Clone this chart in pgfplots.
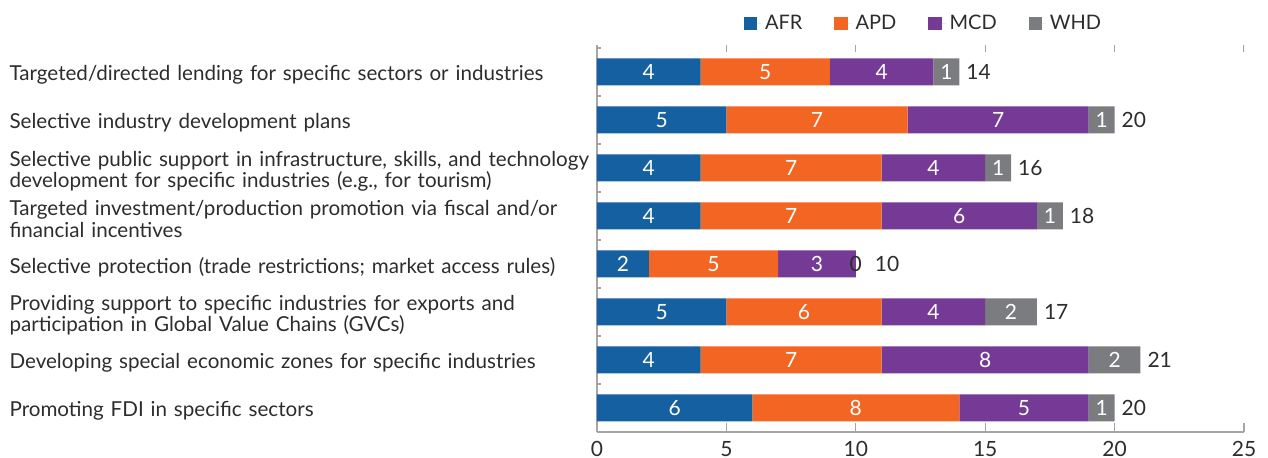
\documentclass[border=0pt]{standalone}
\usepackage{pgfplots}
\pgfplotsset{compat=1.18}
\usepackage{pgfplotstable}
\usetikzlibrary{calc}
\usepackage{fontspec}
\setmainfont{Lato}
\definecolor{afr}{RGB}{21,96,160}
\definecolor{apd}{RGB}{242,101,34}
\definecolor{mcd}{RGB}{117,58,149}
\definecolor{whd}{RGB}{123,124,128}
\definecolor{txt}{RGB}{45,45,45}
\definecolor{axisgray}{RGB}{165,165,165}

% y = 7 is the top row
\pgfplotstableread{
y afr apd mcd whd total
7 4 5 4 1 14
6 5 7 7 1 20
5 4 7 4 1 16
4 4 7 6 1 18
3 2 5 3 0 10
2 5 6 4 2 17
1 4 7 8 2 21
0 6 8 5 1 20
}\measures

\pgfplotsset{
  /pgf/number format/assume math mode=true,
  frame/.style={scale only axis, width=323.5pt, height=193.5pt,
    xmin=0, xmax=25, ymin=-0.5, ymax=7.5625},
  seg/.style={fill=#1, draw=none,
    point meta=explicit,
    nodes near coords,
    every node near coord/.append style={text=white,
      font=\fontsize{10.5}{12}\selectfont}}
}

\begin{document}
\begin{tikzpicture}
\begin{axis}[
  frame,
  xbar stacked, bar width=13.5pt,
  axis x line*=bottom, axis y line*=left,
  axis line style={axisgray, line width=0.6pt},
  tick align=inside,
  major tick length=4.5pt,
  xtick={0,5,...,25},
  xtick style={axisgray, line width=0.6pt},
  xticklabel style={text=txt, font=\fontsize{10.5}{12}\selectfont, yshift=-1pt},
  ytick={0,1,...,7},
  ytick style={draw=none},
  yticklabel style={text width=290pt, align=left, inner xsep=0pt, xshift=-3.5pt,
      yshift=-1.5pt, text=txt, font=\fontsize{10.3}{10.6}\selectfont},
  yticklabels={
    {Promoting FDI in specific sectors},
    {Developing special economic zones for specific industries},
    {Providing support to specific industries for exports and\\participation in Global Value Chains (GVCs)},
    {Selective protection (trade restrictions; market access rules)},
    {Targeted investment/production promotion via fiscal and/or\\financial incentives},
    {Selective public support in infrastructure, skills, and technology\\development for specific industries (e.g., for tourism)},
    {Selective industry development plans},
    {Targeted/directed lending for specific sectors or industries}},
  legend style={at={(0.5,1)}, anchor=south, yshift=2pt, xshift=2pt, draw=none, fill=none,
    legend columns=-1, font=\fontsize{10}{12}\selectfont, text=txt,
    /tikz/every even column/.append style={column sep=14pt}},
  legend image code/.code={\fill[#1] (0pt,-3.3pt) rectangle (6.6pt,3.3pt); \path (0pt,0pt) -- (8.6pt,0pt);},
]
\addplot[seg=afr] table[x=afr, y=y, meta=afr] {\measures};
\addplot[seg=apd] table[x=apd, y=y, meta=apd] {\measures};
\addplot[seg=mcd] table[x=mcd, y=y, meta=mcd] {\measures};
\addplot[seg=whd] table[x=whd, y=y, meta=whd] {\measures};
\legend{AFR, APD, MCD, WHD}
% top ticks and category separators
\pgfplotsinvokeforeach{5,10,15,20,25}{
  \draw[axisgray, line width=0.6pt] (axis cs:#1,7.5625) -- ++(0pt,-3.5pt);
}
\pgfplotsinvokeforeach{-0.5,0.5,1.5,2.5,3.5,4.5,5.5,6.5,7.5}{
  \draw[axisgray, line width=0.6pt] (axis cs:0,#1) -- ++(2pt,0pt);
}
\end{axis}
% overlay: totals at the end of each stack, and the zero WHD value
\begin{axis}[frame, hide axis]
\addplot[only marks, mark=none, point meta=explicit,
  visualization depends on={\thisrow{whd} \as \wv},
  nodes near coords,
  every node near coord/.append style={text=txt, anchor=west,
    xshift={(\wv==0)*6pt},
    font=\fontsize{10.5}{12}\selectfont}]
  table[x=total, y=y, meta=total] {\measures};
\addplot[only marks, mark=none, point meta=explicit,
  nodes near coords={\pgfmathfloatifflags{\pgfplotspointmeta}{0}{0}{}},
  every node near coord/.append style={text=txt, anchor=center,
    font=\fontsize{10.5}{12}\selectfont}]
  table[x=total, y=y, meta=whd] {\measures};
\end{axis}
\pgfresetboundingbox
\path[use as bounding box] ($(current axis.south west)+(-298.5pt,-13pt)$) rectangle ($(current axis.south west)+(335.5pt,216pt)$);
\end{tikzpicture}
\end{document}
